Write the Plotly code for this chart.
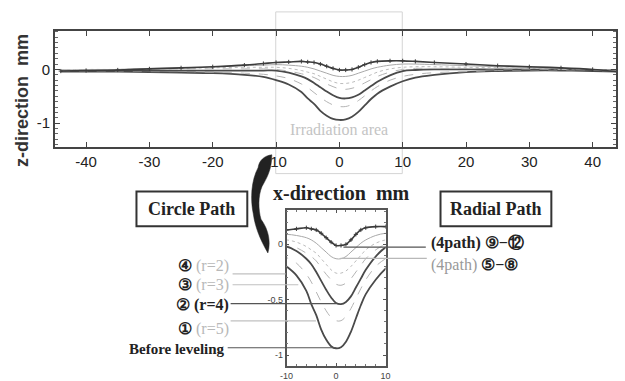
import plotly.graph_objects as go

W, H = 625, 381

# ---------------- data ----------------
x_mm = [-44, -40, -35, -30, -25, -20, -15, -12, -10, -8, -6, -5, -4, -3, -2, -1, 0,
        1, 2, 3, 4, 5, 6, 8, 10, 12, 15, 20, 25, 30, 35, 40, 44]

before_leveling = [-0.04, -0.04, -0.04, -0.05, -0.06, -0.07, -0.10, -0.14, -0.20, -0.28, -0.42, -0.54,
                   -0.64, -0.77, -0.86, -0.92, -0.94, -0.93, -0.88, -0.79, -0.67, -0.55, -0.45, -0.32,
                   -0.22, -0.15, -0.10, -0.05, -0.03, -0.02, -0.02, -0.03, -0.04]
r5 = [-0.03, -0.03, -0.03, -0.04, -0.04, -0.05, -0.07, -0.09, -0.12, -0.17, -0.27, -0.34,
      -0.43, -0.52, -0.60, -0.66, -0.69, -0.69, -0.65, -0.58, -0.49, -0.40, -0.32, -0.20,
      -0.13, -0.09, -0.06, -0.04, -0.02, -0.01, -0.01, -0.02, -0.03]
r4 = [-0.02, -0.02, -0.02, -0.02, -0.02, -0.02, -0.02, -0.02, -0.02, -0.06, -0.13, -0.18,
      -0.25, -0.33, -0.41, -0.48, -0.53, -0.54, -0.52, -0.47, -0.39, -0.31, -0.23, -0.11,
      -0.03, -0.01, 0.00, 0.00, 0.00, 0.00, 0.00, -0.01, -0.02]
r3 = [-0.01, -0.01, 0.00, 0.00, 0.01, 0.01, 0.01, 0.01, 0.00, -0.03, -0.08, -0.11,
      -0.15, -0.21, -0.27, -0.32, -0.36, -0.37, -0.35, -0.31, -0.25, -0.19, -0.13, -0.05,
      0.00, 0.02, 0.02, 0.02, 0.01, 0.01, 0.00, -0.01, -0.02]
r2 = [-0.01, 0.00, 0.00, 0.01, 0.02, 0.03, 0.04, 0.04, 0.04, 0.02, -0.02, -0.05,
      -0.08, -0.13, -0.18, -0.23, -0.26, -0.26, -0.24, -0.20, -0.15, -0.10, -0.05, 0.01,
      0.04, 0.05, 0.05, 0.04, 0.03, 0.02, 0.01, 0.00, -0.02]
path_5_8 = [-0.02, -0.01, 0.00, 0.02, 0.03, 0.05, 0.07, 0.08, 0.09, 0.08, 0.06, 0.04,
            0.01, -0.03, -0.07, -0.11, -0.13, -0.13, -0.11, -0.07, -0.03, 0.01, 0.04, 0.08,
            0.10, 0.10, 0.09, 0.07, 0.05, 0.04, 0.02, 0.00, -0.03]
path_9_12 = [-0.03, -0.02, -0.01, 0.01, 0.03, 0.05, 0.08, 0.11, 0.13, 0.14, 0.15, 0.14,
             0.13, 0.10, 0.06, 0.02, -0.01, -0.01, 0.00, 0.04, 0.09, 0.13, 0.15, 0.16,
             0.16, 0.15, 0.13, 0.10, 0.07, 0.05, 0.03, 0.00, -0.04]

main_xticks = [-40, -30, -20, -10, 0, 10, 20, 30, 40]
main_xticktext = ["-40", "-30", "-20", "-10", "0", "10", "20", "30", "40"]
main_yticks = [-1, 0]
main_yticktext = ["-1", "0"]
inset_xticks = [-10, 0, 10]
inset_xticktext = ["-10", "0", "10"]
inset_yticks = [-1, -0.5, 0]
inset_yticktext = ["-1", "-0.5", "0"]

# ---------------- helpers ----------------
def px(x):
    return x / W

def py(y):
    return 1 - y / H

DARK = "#4a4a4a"
LIGHT = "#b4b4b4"

styles = [
    ("Before leveling", before_leveling, dict(color=DARK, width=1.8)),
    ("r=5", r5, dict(color=LIGHT, width=1, dash="dash")),
    ("r=4", r4, dict(color=DARK, width=1.8)),
    ("r=3", r3, dict(color=LIGHT, width=1, dash="dash")),
    ("r=2", r2, dict(color="#bcbcbc", width=1, dash="dot")),
    ("5-8", path_5_8, dict(color="#a8a8a8", width=1)),
]

fig = go.Figure()
for ax in ("", "2"):
    for name, ys, ln in styles:
        fig.add_trace(go.Scatter(x=x_mm, y=ys, mode="lines", line=ln, name=name,
                                 xaxis="x" + ax, yaxis="y" + ax, showlegend=False,
                                 line_shape="spline"))
    fig.add_trace(go.Scatter(x=x_mm, y=path_9_12, mode="lines+markers",
                             line=dict(color="#3c3c3c", width=1.6, shape="spline"),
                             marker=dict(symbol="cross-thin", size=3,
                                         line=dict(color="#3c3c3c", width=1)),
                             xaxis="x" + ax, yaxis="y" + ax, showlegend=False))

tickfont_main = dict(family="Liberation Sans, Arial, sans-serif", size=15, color="#222")
tickfont_inset = dict(family="Liberation Sans, Arial, sans-serif", size=9, color="#444")

fig.update_layout(
    width=W, height=H, margin=dict(l=0, r=0, t=0, b=0),
    paper_bgcolor="white", plot_bgcolor="white",
    xaxis=dict(domain=[px(49), px(621)], range=[-44.9, 43.7],
               tickvals=main_xticks, ticktext=main_xticktext, ticks="inside", ticklen=5,
               tickcolor="#444", showline=True, linecolor="#444", linewidth=2,
               mirror="ticks", showgrid=False, zeroline=False, tickfont=tickfont_main),
    yaxis=dict(domain=[py(148), py(31)], range=[-1.44, 0.72],
               tickvals=main_yticks, ticktext=main_yticktext, ticks="inside", ticklen=5,
               tickcolor="#444", showline=True, linecolor="#444", linewidth=2,
               mirror="ticks", showgrid=False, zeroline=False, tickfont=tickfont_main,
               minor=dict(dtick=0.1, ticks="inside", ticklen=3, tickcolor="#666", showgrid=False)),
    xaxis2=dict(domain=[px(285), px(386)], range=[-10, 10], anchor="y2",
                tickvals=inset_xticks, ticktext=inset_xticktext, ticks="inside", ticklen=3,
                tickcolor="#555", showline=True, linecolor="#555", linewidth=1.5,
                mirror="ticks", showgrid=False, zeroline=False, tickfont=tickfont_inset,
                minor=dict(dtick=2, ticks="inside", ticklen=2, tickcolor="#777", showgrid=False)),
    yaxis2=dict(domain=[py(369), py(211.7)], range=[-1.1, 0.31], anchor="x2",
                tickvals=inset_yticks, ticktext=inset_yticktext, ticks="inside", ticklen=3,
                tickcolor="#555", showline=True, linecolor="#555", linewidth=1.5,
                mirror="ticks", showgrid=False, zeroline=False, tickfont=tickfont_inset,
                minor=dict(dtick=0.1, ticks="inside", ticklen=2, tickcolor="#777", showgrid=False)),
)

shapes = []
# irradiation area rectangle
shapes.append(dict(type="rect", xref="paper", yref="paper", x0=px(274), x1=px(403),
                   y0=py(175), y1=py(12), line=dict(color="#d4d4d4", width=1), layer="below"))
# boxes
shapes.append(dict(type="rect", xref="paper", yref="paper", x0=px(132), x1=px(245),
                   y0=py(228), y1=py(193), line=dict(color="#333", width=2)))
shapes.append(dict(type="rect", xref="paper", yref="paper", x0=px(442), x1=px(555),
                   y0=py(228), y1=py(193), line=dict(color="#333", width=2)))
# leader lines
leaders = [
    (230, 284, 276, "#c0c0c0"),
    (230, 297, 287, "#c0c0c0"),
    (228, 336, 306, "#555"),
    (228, 315, 323.5, "#c0c0c0"),
    (225, 336, 350.5, "#555"),
    (343, 427, 249, "#555"),
    (340, 428, 260.5, "#b8b8b8"),
]
for x0, x1, yy, c in leaders:
    shapes.append(dict(type="line", xref="paper", yref="paper", x0=px(x0), x1=px(x1),
                       y0=py(yy), y1=py(yy), line=dict(color=c, width=1.2)))

# curved arrow
def P(x, y):
    return f"{px(x):.5f},{py(y):.5f}"

arrow = ("M " + P(270, 156) +
         " C " + P(262, 157) + " " + P(257, 162) + " " + P(256, 169) +
         " C " + P(249, 182) + " " + P(248, 200) + " " + P(251, 215) +
         " C " + P(253, 230) + " " + P(259, 243) + " " + P(266, 255) +
         " C " + P(269, 244) + " " + P(267, 232) + " " + P(259, 221) +
         " C " + P(256, 211) + " " + P(256, 197) + " " + P(260, 188) +
         " C " + P(265, 179) + " " + P(270, 171) + " " + P(270, 156) + " Z")
shapes.append(dict(type="path", xref="paper", yref="paper", path=arrow,
                   fillcolor="#222", line=dict(color="#222", width=0.5)))
fig.update_layout(shapes=shapes)

SERIF = "Liberation Serif, Times New Roman, serif"
ann = []

def A(text, x, y, size=14, color="#222", xanchor="center", family=SERIF, angle=0):
    ann.append(dict(text=text, x=px(x), y=py(y), xref="paper", yref="paper",
                    showarrow=False, xanchor=xanchor, yanchor="middle",
                    font=dict(family=family, size=size, color=color), textangle=angle))

A("<b>z-direction  mm</b>", 15, 101, size=18, family="Liberation Sans, Arial, sans-serif",
  color="#333", angle=-90)
A("Irradiation area", 339, 131, size=16, color="#c4c4c4")
A("<b>x-direction  mm</b>", 341, 195, size=20)
A("<b>Circle Path</b>", 188.5, 210.5, size=18)
A("<b>Radial Path</b>", 498.5, 210.5, size=18)

LG = "#b8b8b8"
A(f"<b>④</b> <span style='color:{LG}'>(r=2)</span>", 228, 268, size=16, xanchor="right")
A(f"<b>③</b> <span style='color:{LG}'>(r=3)</span>", 228, 287, size=16, xanchor="right")
A("<b>② (r=4)</b>", 228, 307, size=16, xanchor="right")
A(f"<b>①</b> <span style='color:{LG}'>(r=5)</span>", 228, 332, size=16, xanchor="right")
A("<b>Before leveling</b>", 224, 352, size=15, xanchor="right")
A("<b>(4path) ⑨−⑫</b>", 430, 245, size=16, xanchor="left")
A("<span style='color:#999'>(4path)</span> <b>⑤−⑧</b>", 430, 267, size=16, xanchor="left")

fig.update_layout(annotations=ann)
fig.write_html("out.html", config={"displayModeBar": False},
               post_script="document.body.style.margin='0';document.body.style.overflow='hidden';")
